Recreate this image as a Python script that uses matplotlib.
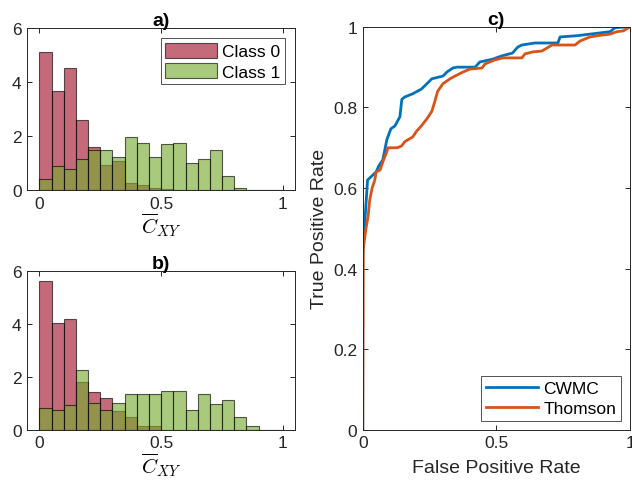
import numpy as np
import matplotlib
matplotlib.use("Agg")
import matplotlib.pyplot as plt

plt.rcParams['font.family'] = ['Liberation Sans', 'DejaVu Sans']
plt.rcParams['mathtext.fontset'] = 'cm'

bin_edges = np.round(np.arange(0, 1.0001, 0.05), 2)

# Panel a) normalized histogram heights per 0.05 bin
a_class0 = [5.1, 3.68, 4.52, 2.6, 1.6, 0.92, 1.07, 0.28, 0.21, 0.07, 0.05, 0, 0, 0, 0, 0, 0, 0, 0, 0]
a_class1 = [0.40, 0.89, 0.78, 1.14, 1.49, 1.49, 1.24, 1.95, 1.76, 1.24, 1.69, 1.76, 0.99, 1.14, 1.50, 0.53, 0.07, 0, 0, 0]

# Panel b)
b_class0 = [5.61, 4.05, 4.2, 1.82, 1.43, 1.21, 0.72, 0.49, 0.14, 0.16, 0, 0, 0, 0, 0, 0, 0, 0, 0, 0]
b_class1 = [0.84, 0.75, 0.94, 2.26, 1.02, 0.74, 1.03, 1.37, 1.37, 1.37, 1.46, 1.46, 0.75, 1.37, 0.97, 1.11, 0.49, 0.14, 0, 0]

# Panel c) ROC curves
cwmc_fpr = [0, 0, 0.003, 0.006, 0.012, 0.018, 0.026, 0.05, 0.06, 0.075, 0.09, 0.105, 0.12, 0.139,
            0.146, 0.157, 0.187, 0.22, 0.24, 0.258, 0.30, 0.315, 0.337, 0.352, 0.42, 0.438, 0.487,
            0.52, 0.56, 0.58, 0.595, 0.644, 0.73, 0.738, 0.80, 0.85, 0.925, 0.944, 0.99, 1.0]
cwmc_tpr = [0, 0.43, 0.47, 0.50, 0.56, 0.62, 0.625, 0.64, 0.655, 0.67, 0.72, 0.747, 0.754, 0.777,
            0.82, 0.826, 0.834, 0.846, 0.859, 0.871, 0.878, 0.888, 0.898, 0.90, 0.90, 0.913, 0.92,
            0.928, 0.935, 0.95, 0.955, 0.96, 0.96, 0.975, 0.978, 0.982, 0.988, 0.998, 1.0, 1.0]

thom_fpr = [0, 0.002, 0.006, 0.012, 0.02, 0.026, 0.035, 0.045, 0.05, 0.065, 0.075, 0.09, 0.094,
            0.13, 0.146, 0.157, 0.187, 0.20, 0.22, 0.24, 0.258, 0.27, 0.28, 0.30, 0.326, 0.345,
            0.375, 0.40, 0.446, 0.457, 0.494, 0.524, 0.595, 0.607, 0.637, 0.67, 0.708, 0.794,
            0.813, 0.85, 0.876, 0.925, 0.95, 0.974, 1.0]
thom_tpr = [0, 0.45, 0.47, 0.50, 0.53, 0.57, 0.60, 0.62, 0.64, 0.645, 0.665, 0.69, 0.70,
            0.70, 0.705, 0.715, 0.727, 0.74, 0.755, 0.772, 0.79, 0.816, 0.84, 0.859, 0.871, 0.878,
            0.888, 0.895, 0.898, 0.908, 0.918, 0.923, 0.923, 0.933, 0.938, 0.94, 0.955, 0.955,
            0.965, 0.975, 0.978, 0.982, 0.988, 0.99, 1.0]

red = (0.635, 0.078, 0.184)
green = (0.466, 0.674, 0.188)
alpha = 0.63
axcol = (0.15, 0.15, 0.15)
fs_tick = 12.5
fs_lab = 14

fig = plt.figure(figsize=(6.32, 4.89), dpi=100)

def style(ax):
    for s in ax.spines.values():
        s.set_color(axcol)
        s.set_linewidth(0.7)
    ax.tick_params(direction='in', top=True, right=True, colors=axcol, labelsize=fs_tick,
                   length=3.5, width=0.7, pad=4)
    for lab in ax.get_xticklabels() + ax.get_yticklabels():
        lab.set_color(axcol)

def hist_panel(ax, c0, c1, title, legend=False):
    width = 0.05
    lefts = bin_edges[:-1]
    ax.bar(lefts, c0, width=width, align='edge', color=red, alpha=alpha,
           edgecolor='black', linewidth=0.8, label='Class 0')
    ax.bar(lefts, c1, width=width, align='edge', color=green, alpha=alpha,
           edgecolor='black', linewidth=0.8, label='Class 1')
    ax.set_xlim(-0.05, 1.05)
    ax.set_ylim(0, 6)
    ax.set_xticks([0, 0.5, 1])
    ax.set_xticklabels(['0', '0.5', '1'])
    ax.set_yticks([0, 2, 4, 6])
    ax.set_title(title, fontweight='bold', fontsize=14, pad=2)
    ax.set_xlabel(r'$\overline{C}_{XY}$', fontsize=15, labelpad=0)
    style(ax)
    if legend:
        leg = ax.legend(loc='upper right', fontsize=fs_tick, frameon=True, fancybox=False,
                        edgecolor=axcol, handlelength=3.0, handleheight=1.0,
                        borderaxespad=0.6, labelspacing=0.2, handletextpad=0.3,
                        borderpad=0.25)
        leg.get_frame().set_linewidth(0.7)

ax_a = fig.add_axes([0.043, 0.609, 0.424, 0.332])
hist_panel(ax_a, a_class0, a_class1, 'a)', legend=True)

ax_b = fig.add_axes([0.043, 0.119, 0.424, 0.325])
hist_panel(ax_b, b_class0, b_class1, 'b)')

ax_c = fig.add_axes([0.574, 0.119, 0.423, 0.824])
ax_c.plot(cwmc_fpr, cwmc_tpr, color=(0, 0.447, 0.741), linewidth=2, label='CWMC')
ax_c.plot(thom_fpr, thom_tpr, color=(0.85, 0.325, 0.098), linewidth=2, label='Thomson')
ax_c.set_xlim(0, 1)
ax_c.set_ylim(0, 1)
ax_c.set_xticks([0, 0.5, 1])
ax_c.set_xticklabels(['0', '0.5', '1'])
ax_c.set_yticks([0, 0.2, 0.4, 0.6, 0.8, 1])
ax_c.set_yticklabels(['0', '0.2', '0.4', '0.6', '0.8', '1'])
ax_c.set_xlabel('False Positive Rate', fontsize=fs_lab, color=axcol, labelpad=6)
ax_c.set_ylabel('True Positive Rate', fontsize=fs_lab, color=axcol, labelpad=4)
ax_c.set_title('c)', fontweight='bold', fontsize=14, pad=2)
style(ax_c)
leg = ax_c.legend(loc='lower right', fontsize=fs_tick, frameon=True, fancybox=False,
                  edgecolor=axcol, handlelength=3.0, borderaxespad=0.5,
                  labelspacing=0.25, handletextpad=0.3, borderpad=0.3)
leg.get_frame().set_linewidth(0.7)

fig.savefig('out.png', dpi=100)
